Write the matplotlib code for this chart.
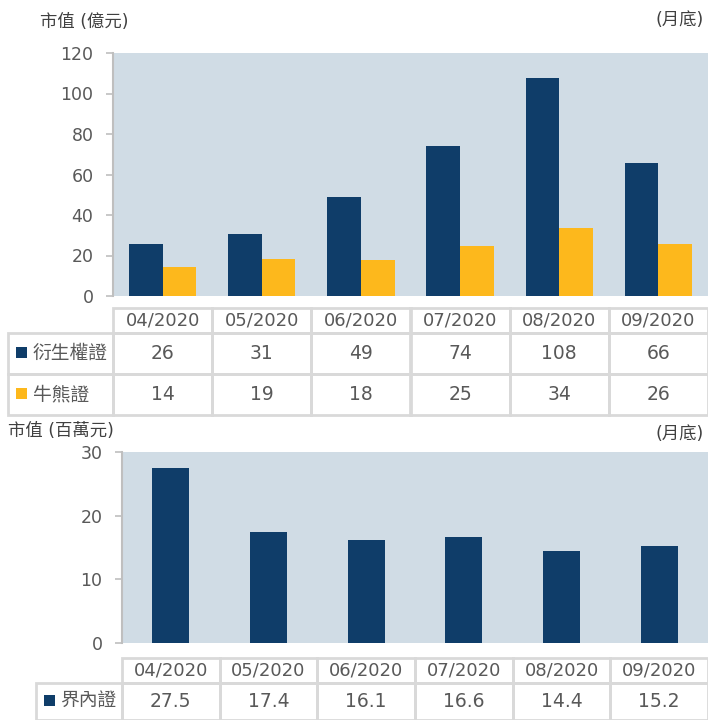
import matplotlib
matplotlib.use("Agg")
import matplotlib.pyplot as plt
from matplotlib.patches import Rectangle

plt.rcParams['font.family'] = ['DejaVu Sans', 'Noto Sans CJK TC']

months = ['04/2020', '05/2020', '06/2020', '07/2020', '08/2020', '09/2020']
warrants = [25.5, 30.5, 49, 74, 107.5, 65.5]
warrants_lbl = ['26', '31', '49', '74', '108', '66']
cbbc = [14.5, 18.5, 18, 24.5, 33.5, 25.5]
cbbc_lbl = ['14', '19', '18', '25', '34', '26']
inline = [27.5, 17.4, 16.1, 16.6, 14.4, 15.2]
inline_lbl = ['27.5', '17.4', '16.1', '16.6', '14.4', '15.2']

NAVY = '#0F3D69'
GOLD = '#FDB81C'
BG = '#D0DCE5'
GRID = '#D9D9D9'
TXT = '#595959'
W, H = 708, 720

fig = plt.figure(figsize=(W / 100, H / 100), dpi=100)


def px_axes(x0, y0, x1, y1):
    return fig.add_axes([x0 / W, 1 - y1 / H, (x1 - x0) / W, (y1 - y0) / H])


def bar_axes(ax, ymax, step):
    ax.set_facecolor(BG)
    ax.set_xlim(-0.5, len(months) - 0.5)
    ax.set_ylim(0, ymax)
    ax.set_yticks(range(0, ymax + 1, step))
    ax.set_xticks([])
    for s in ['top', 'right', 'bottom']:
        ax.spines[s].set_visible(False)
    ax.spines['left'].set_color('#BFBFBF')
    ax.spines['left'].set_linewidth(1.5)
    ax.tick_params(axis='y', colors='#BFBFBF', labelcolor=TXT, labelsize=12.5,
                   length=5, width=1.2, pad=9)


def table(ax, rows, label_x0, head_h, row_h):
    # rows: list of (label, colour, values)
    n = len(months)
    ax.set_xlim(-0.5, n - 0.5)
    total = head_h + row_h * len(rows)
    ax.set_ylim(total, 0)
    ax.axis('off')
    lw = 2
    # header cells
    for i, m in enumerate(months):
        ax.add_patch(Rectangle((i - 0.5, 0), 1, head_h, fill=False, ec=GRID, lw=lw, clip_on=False))
        ax.text(i, head_h / 2, m, ha='center', va='center', fontsize=13, color=TXT)
    for r, (lab, col, vals) in enumerate(rows):
        y0 = head_h + r * row_h
        ax.add_patch(Rectangle((label_x0, y0), -0.5 - label_x0, row_h, fill=False, ec=GRID, lw=lw, clip_on=False))
        ax.add_patch(Rectangle((label_x0 + 0.08, y0 + row_h / 2 - 6), 0.11, 11, fc=col, ec='none', clip_on=False))
        ax.text(label_x0 + 0.25, y0 + row_h / 2, lab, ha='left', va='center', fontsize=13.5, color=TXT)
        for i, v in enumerate(vals):
            ax.add_patch(Rectangle((i - 0.5, y0), 1, row_h, fill=False, ec=GRID, lw=lw, clip_on=False))
            ax.text(i, y0 + row_h / 2, v, ha='center', va='center', fontsize=13.5, color=TXT)


x = list(range(len(months)))

# top chart
ax1 = px_axes(113, 53, 708, 296)
bar_axes(ax1, 120, 20)
ax1.bar([i - 0.17 for i in x], warrants, width=0.34, color=NAVY)
ax1.bar([i + 0.17 for i in x], cbbc, width=0.34, color=GOLD)

t1 = px_axes(113, 308, 708, 415)
table(t1, [('衍生權證', NAVY, warrants_lbl), ('牛熊證', GOLD, cbbc_lbl)],
      (8 - 113) / (595 / 6) - 0.5, 25, 41)

fig.text(40 / W, 1 - 22 / H, '市值 (億元)', fontsize=12.5, color='#404040', va='center')
fig.text(704 / W, 1 - 20 / H, '(月底)', fontsize=12.5, color='#404040', va='center', ha='right')

# bottom chart
ax2 = px_axes(122, 452, 708, 643)
bar_axes(ax2, 30, 10)
ax2.bar(x, inline, width=0.38, color=NAVY)

t2 = px_axes(122, 658, 708, 720)
table(t2, [('界內證', NAVY, inline_lbl)], (36 - 122) / (586 / 6) - 0.5, 25, 38)

fig.text(8 / W, 1 - 431 / H, '市值 (百萬元)', fontsize=12.5, color='#404040', va='center')
fig.text(704 / W, 1 - 434 / H, '(月底)', fontsize=12.5, color='#404040', va='center', ha='right')

fig.savefig('out.png', dpi=100)
